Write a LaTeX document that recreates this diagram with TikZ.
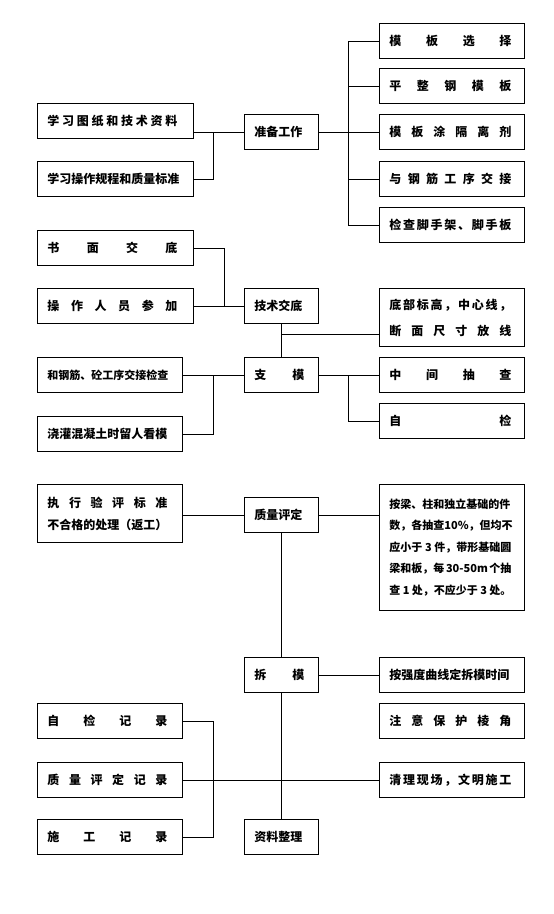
\documentclass[tikz,border=0pt]{standalone}
\usepackage{fontspec}
\setmainfont{Noto Sans CJK SC}
\usepackage{tikz}
\usetikzlibrary{calc}
\newcommand{\spr}[2]{{\spaceskip=0pt plus 1fil\makebox[#1][s]{#2}}}

\begin{document}
\begin{tikzpicture}[
  x=1pt, y=-1pt, line width=0.9pt,
  font=\fontsize{12}{22}\selectfont\bfseries,
  box/.style={draw, anchor=north west, align=left, inner xsep=10pt,
              inner ysep=0pt, minimum height=35pt},
  lbox/.style={box, text width=136pt},
  sbox/.style={box, text width=125pt},
  mbox/.style={box, text width=54pt},
]
  \useasboundingbox (0,0) rectangle (554,914);

  % preparation
  \node[sbox] (sel) at (379,23) {\spr{122pt}{模 板 选 择}};
  \node[sbox] (flat) at (379,68) {\spr{122pt}{平 整 钢 模 板}};
  \node[sbox] (oil) at (379,114) {\spr{122pt}{模 板 涂 隔 离 剂}};
  \node[sbox] (rebar) at (379,161) {\spr{122pt}{与 钢 筋 工 序 交 接}};
  \node[sbox] (scaf) at (379,207) {\spr{122pt}{检 查 脚 手 架 、 脚 手 板}};
  \node[mbox] (prep) at (244,114) {准备工作};
  \node[lbox] (drw) at (37,103) {\spr{130pt}{学 习 图 纸 和 技 术 资 料}};
  \node[lbox] (rule) at (37,161) {学习操作规程和质量标准};

  % briefing and formwork
  \node[lbox] (wrt) at (37,230) {\spr{130pt}{书 面 交 底}};
  \node[lbox] (ppl) at (37,288) {\spr{130pt}{操 作 人 员 参 加}};
  \node[mbox] (tech) at (244,288) {技术交底};
  \node[sbox, minimum height=58pt] (setout) at (379,288)
    {\spr{122pt}{底 部 标 高 ， 中 心 线 ，}\\[4pt]\spr{122pt}{断 面 尺 寸 放 线}};
  \node[mbox] (form) at (244,357) {\spr{50pt}{支 模}};
  \node[sbox, font=\fontsize{11}{22}\selectfont\bfseries] (jnt) at (37,357)
    {和钢筋、砼工序交接检查};
  \node[sbox] (pour) at (37,416) {浇灌混凝土时留人看模};
  \node[sbox] (mid) at (379,357) {\spr{122pt}{中 间 抽 查}};
  \node[sbox] (self) at (379,403) {\spr{122pt}{自 检}};

  % quality
  \node[sbox, minimum height=58pt] (std) at (37,484)
    {\spr{120pt}{执 行 验 评 标 准}\\不合格的处理（返工）};
  \node[mbox] (qa) at (244,497) {质量评定};
  \node[sbox, minimum height=126pt, font=\fontsize{11}{21.5}\selectfont\bfseries] (smp) at (379,484)
    {按梁、柱和独立基础的件\\
     \spr{122pt}{数，各抽查 10\%，但均不}\\
     \spr{122pt}{应小于 3 件，带形基础圆}\\
     \spr{122pt}{梁和板，每 30-50m 个抽}\\
     \spr{122pt}{查 1 处，不应少于 3 处。}};

  % stripping and records
  \node[mbox] (strip) at (244,657) {\spr{50pt}{拆 模}};
  \node[sbox] (time) at (379,657) {按强度曲线定拆模时间};
  \node[sbox] (edge) at (379,703) {\spr{122pt}{注 意 保 护 棱 角}};
  \node[sbox] (clean) at (379,762) {\spr{122pt}{清 理 现 场 ， 文 明 施 工}};
  \node[sbox] (rec1) at (37,703) {\spr{120pt}{自 检 记 录}};
  \node[sbox] (rec2) at (37,762) {\spr{120pt}{质 量 评 定 记 录}};
  \node[sbox] (rec3) at (37,819) {\spr{120pt}{施 工 记 录}};
  \node[mbox] (arch) at (244,819) {资料整理};

  \draw (sel.west) -| ([xshift=30pt]prep.east) |- (scaf.west);
  \draw (flat.west) -- ++(-31pt,0);
  \draw (rebar.west) -- ++(-31pt,0);
  \draw (prep.east) -- (oil.west);
  \draw (prep.west) -- (prep.west -| drw.east);
  \draw (rule.east) -- ++(20pt,0) |- (prep.west);

  \draw (wrt.east) -- ++(31pt,0) |- (tech.west);
  \draw (ppl.east) -- (tech.west);
  \draw (tech) -- (form);
  \coordinate (tf) at ($(tech.south)!0.32!(form.north)$);
  \draw (tf) -- (tf -| setout.west);
  \draw (jnt.east) -- (form.west);
  \draw (pour.east) -- ++(31pt,0) |- (form.west);
  \draw (form.east) -- (mid.west);
  \draw (self.west) -- ++(-31pt,0) |- (mid.west);

  \draw (std.east |- qa.west) -- (qa.west);
  \draw (qa.east) -- (qa.east -| smp.west);
  \draw (qa) -- (strip);
  \draw (strip) -- (arch);
  \draw (strip.east) -- (time.west);
  \draw (rec2.east) -- (clean.west);
  \draw (rec1.east) -- ++(31pt,0) |- (rec3.east);
\end{tikzpicture}
\end{document}
